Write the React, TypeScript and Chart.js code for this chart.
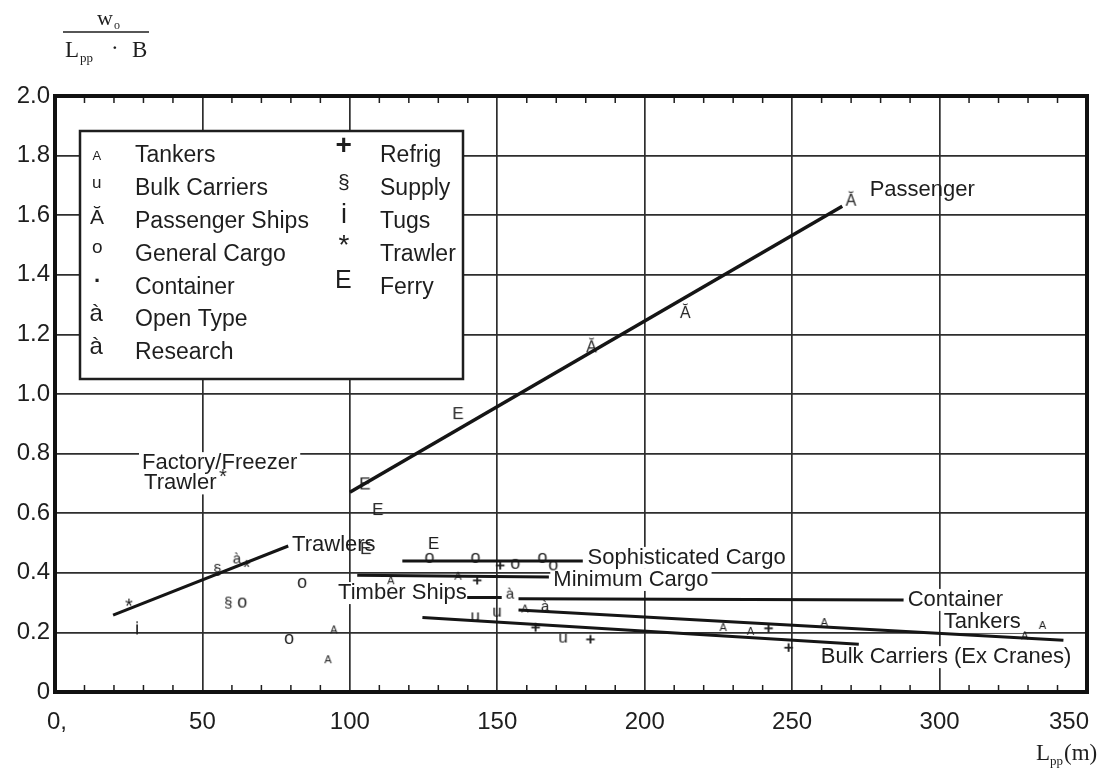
import React, { useEffect, useRef } from "react";
import { Chart, registerables } from "chart.js";

Chart.register(...registerables);

const W = 1098;
const H = 773;

// ---- Axis ticks ----
const xTickValues = [0, 50, 100, 150, 200, 250, 300, 350];
const xTickLabels = ["0,", "50", "100", "150", "200", "250", "300", "350"];
const yTickValues = [0, 0.2, 0.4, 0.6, 0.8, 1.0, 1.2, 1.4, 1.6, 1.8, 2.0];
const yTickLabels = ["0", "0.2", "0.4", "0.6", "0.8", "1.0", "1.2", "1.4", "1.6", "1.8", "2.0"];

// ---- Scatter points (Lpp in m, wo/(Lpp*B)) ----
const tankersX = [92.7, 94.7, 114, 136.8, 159.5, 226.7, 236, 261, 329, 335];
const tankersY = [0.11, 0.21, 0.375, 0.39, 0.28, 0.218, 0.205, 0.235, 0.19, 0.225];
const bulkX = [142.6, 150, 172.4];
const bulkY = [0.252, 0.268, 0.181];
const passengerX = [182, 213.8, 270];
const passengerY = [1.165, 1.28, 1.657];
const cargoX = [63.5, 79.4, 83.8, 127, 142.6, 156.1, 165.3, 169];
const cargoY = [0.3, 0.178, 0.366, 0.45, 0.45, 0.43, 0.45, 0.425];
const openTypeX = [154.4, 166.3];
const openTypeY = [0.332, 0.29];
const researchX = [61.8];
const researchY = [0.45];
const refrigX = [143.2, 151, 163, 181.6, 242, 248.8];
const refrigY = [0.376, 0.426, 0.218, 0.178, 0.215, 0.15];
const supplyX = [55, 58.7];
const supplyY = [0.41, 0.3];
const tugsX = [27.8];
const tugsY = [0.215];
const trawlerX = [25.1, 57, 65];
const trawlerY = [0.3, 0.735, 0.43];
const ferryX = [105.2, 105.5, 109.6, 128.5, 136.8];
const ferryY = [0.7, 0.483, 0.614, 0.5, 0.936];

// ---- Trend lines ----
const passengerLineX = [100, 267];
const passengerLineY = [0.67, 1.63];
const trawlerLineX = [19.7, 79.1];
const trawlerLineY = [0.258, 0.49];
const sophCargoLineX = [117.8, 179];
const sophCargoLineY = [0.44, 0.44];
const minCargoLineX = [102.5, 167.5];
const minCargoLineY = [0.392, 0.386];
const timberLineX = [139.8, 151.5];
const timberLineY = [0.317, 0.317];
const containerLineX = [157.2, 287.8];
const containerLineY = [0.313, 0.309];
const tankerLineX = [157.2, 342];
const tankerLineY = [0.275, 0.174];
const bulkLineX = [124.6, 272.6];
const bulkLineY = [0.25, 0.16];

// ---- Annotation labels ----
const labelTexts = [
  "Passenger",
  "Factory/Freezer",
  "Trawler",
  "Trawlers",
  "Sophisticated Cargo",
  "Minimum Cargo",
  "Timber Ships",
  "Container",
  "Tankers",
  "Bulk Carriers (Ex Cranes)",
];
const labelXs = [276.3, 29.5, 30.2, 80.4, 180.6, 169, 96, 289.2, 301.4, 259.7];
const labelYs = [1.685, 0.768, 0.7, 0.493, 0.45, 0.376, 0.332, 0.309, 0.235, 0.117];
const labelBackdrop = [false, true, true, false, true, true, true, true, true, true];

// ---- Legend ----
const legendSymbolsLeft = ["A", "u", "Ă", "o", "·", "à", "à"];
const legendNamesLeft = ["Tankers", "Bulk Carriers", "Passenger Ships", "General Cargo", "Container", "Open Type", "Research"];
const legendSymbolsRight = ["+", "§", "i", "*", "E"];
const legendNamesRight = ["Refrig", "Supply", "Tugs", "Trawler", "Ferry"];
const legendSymbolSizesLeft = [13, 17, 21, 19, 22, 24, 24];
const legendSymbolSizesRight = [28, 21, 27, 28, 25];

const SANS = '"Liberation Sans", Arial, Helvetica, sans-serif';
const SERIF = '"Liberation Serif", "Times New Roman", serif';
const INK = "#1e1e1e";

function makeGlyph(ch: string, size: number, bold = false) {
  const font = `${bold ? "bold " : ""}${size}px ${SANS}`;
  const c = document.createElement("canvas");
  let ctx = c.getContext("2d")!;
  ctx.font = font;
  const m = ctx.measureText(ch);
  const l = m.actualBoundingBoxLeft || 0;
  const r = m.actualBoundingBoxRight || m.width;
  const a = m.actualBoundingBoxAscent || size * 0.7;
  const d = m.actualBoundingBoxDescent || 0;
  c.width = Math.ceil(l + r) + 4;
  c.height = Math.ceil(a + d) + 4;
  ctx = c.getContext("2d")!;
  ctx.font = font;
  ctx.fillStyle = INK;
  ctx.textBaseline = "alphabetic";
  ctx.textAlign = "left";
  ctx.fillText(ch, 2 + l, 2 + a);
  return c;
}

function pts(xs: number[], ys: number[]) {
  return xs.map((x, i) => ({ x, y: ys[i] }));
}

function drawCenteredGlyph(ctx: CanvasRenderingContext2D, ch: string, size: number, cx: number, cy: number, bold = false) {
  ctx.font = `${bold ? "bold " : ""}${size}px ${SANS}`;
  const m = ctx.measureText(ch);
  const l = m.actualBoundingBoxLeft || 0;
  const r = m.actualBoundingBoxRight || m.width;
  const a = m.actualBoundingBoxAscent || size * 0.7;
  const d = m.actualBoundingBoxDescent || 0;
  ctx.textAlign = "left";
  ctx.textBaseline = "alphabetic";
  ctx.fillText(ch, cx - (l + r) / 2 + l, cy + (a - d) / 2);
}

export default function App() {
  const ref = useRef<HTMLCanvasElement | null>(null);

  useEffect(() => {
    const canvas = ref.current;
    if (!canvas) return;

    const pointSets = [
      { label: "Tankers", xs: tankersX, ys: tankersY, glyph: makeGlyph("A", 11) },
      { label: "Bulk Carriers", xs: bulkX, ys: bulkY, glyph: makeGlyph("u", 17) },
      { label: "Passenger Ships", xs: passengerX, ys: passengerY, glyph: makeGlyph("Ă", 16) },
      { label: "General Cargo", xs: cargoX, ys: cargoY, glyph: makeGlyph("o", 18) },
      { label: "Open Type", xs: openTypeX, ys: openTypeY, glyph: makeGlyph("à", 15) },
      { label: "Research", xs: researchX, ys: researchY, glyph: makeGlyph("à", 15) },
      { label: "Refrig", xs: refrigX, ys: refrigY, glyph: makeGlyph("+", 17, true) },
      { label: "Supply", xs: supplyX, ys: supplyY, glyph: makeGlyph("§", 15) },
      { label: "Tugs", xs: tugsX, ys: tugsY, glyph: makeGlyph("i", 19) },
      { label: "Trawler", xs: trawlerX, ys: trawlerY, glyph: makeGlyph("*", 20) },
      { label: "Ferry", xs: ferryX, ys: ferryY, glyph: makeGlyph("E", 17) },
    ];

    const lineSets = [
      { label: "Passenger line", xs: passengerLineX, ys: passengerLineY, w: 3.5 },
      { label: "Trawlers line", xs: trawlerLineX, ys: trawlerLineY, w: 3 },
      { label: "Sophisticated Cargo line", xs: sophCargoLineX, ys: sophCargoLineY, w: 3 },
      { label: "Minimum Cargo line", xs: minCargoLineX, ys: minCargoLineY, w: 3 },
      { label: "Timber Ships line", xs: timberLineX, ys: timberLineY, w: 3 },
      { label: "Container line", xs: containerLineX, ys: containerLineY, w: 3 },
      { label: "Tankers line", xs: tankerLineX, ys: tankerLineY, w: 3 },
      { label: "Bulk Carriers line", xs: bulkLineX, ys: bulkLineY, w: 3 },
    ];

    const decorPlugin = {
      id: "decor",
      beforeDraw(chart: any) {
        const ctx = chart.ctx;
        ctx.save();
        ctx.fillStyle = "#ffffff";
        ctx.fillRect(0, 0, chart.width, chart.height);
        ctx.restore();
      },
      beforeDatasetsDraw(chart: any) {
        const ctx = chart.ctx as CanvasRenderingContext2D;
        const xs = chart.scales.x;
        const ys = chart.scales.y;
        const area = chart.chartArea;
        ctx.save();
        // label backdrops (hide grid under text)
        ctx.font = `22px ${SANS}`;
        labelTexts.forEach((t, i) => {
          if (!labelBackdrop[i]) return;
          const px = xs.getPixelForValue(labelXs[i]);
          const py = ys.getPixelForValue(labelYs[i]);
          const w = ctx.measureText(t).width;
          ctx.fillStyle = "#ffffff";
          ctx.fillRect(px - 3, py - 11, w + 6, 22);
        });
        // legend box
        const lx = area.left + 25;
        const ly = area.top + 35;
        const lw = 383;
        const lh = 248;
        ctx.fillStyle = "#ffffff";
        ctx.fillRect(lx, ly, lw, lh);
        ctx.strokeStyle = INK;
        ctx.lineWidth = 2.5;
        ctx.strokeRect(lx, ly, lw, lh);
        ctx.fillStyle = INK;
        const rowH = 32.8;
        legendNamesLeft.forEach((name, i) => {
          const cy = ly + 24 + i * rowH;
          drawCenteredGlyph(ctx, legendSymbolsLeft[i], legendSymbolSizesLeft[i], lx + 17, cy, legendSymbolsLeft[i] === "·");
          ctx.font = `23px ${SANS}`;
          ctx.textAlign = "left";
          ctx.textBaseline = "middle";
          ctx.fillText(name, lx + 55, cy + 1);
        });
        legendNamesRight.forEach((name, i) => {
          const cy = ly + 24 + i * rowH;
          const sym = legendSymbolsRight[i];
          const dy = sym === "*" ? -6 : sym === "+" ? -3 : 0;
          drawCenteredGlyph(ctx, sym, legendSymbolSizesRight[i], lx + 264, cy + dy, sym === "+");
          ctx.font = `23px ${SANS}`;
          ctx.textAlign = "left";
          ctx.textBaseline = "middle";
          ctx.fillText(name, lx + 300, cy + 1);
        });
        ctx.restore();
      },
      afterDatasetsDraw(chart: any) {
        const ctx = chart.ctx as CanvasRenderingContext2D;
        const xs = chart.scales.x;
        const ys = chart.scales.y;
        const area = chart.chartArea;
        ctx.save();
        // annotation text
        ctx.fillStyle = INK;
        ctx.font = `22px ${SANS}`;
        ctx.textAlign = "left";
        ctx.textBaseline = "middle";
        labelTexts.forEach((t, i) => {
          ctx.fillText(t, xs.getPixelForValue(labelXs[i]), ys.getPixelForValue(labelYs[i]));
        });
        // minor ticks along top and bottom
        ctx.strokeStyle = INK;
        ctx.lineWidth = 1.5;
        for (let v = 10; v < 350; v += 10) {
          if (v % 50 === 0) continue;
          const px = xs.getPixelForValue(v);
          ctx.beginPath();
          ctx.moveTo(px, area.bottom);
          ctx.lineTo(px, area.bottom - 7);
          ctx.moveTo(px, area.top);
          ctx.lineTo(px, area.top + 7);
          ctx.stroke();
        }
        // plot frame
        ctx.lineWidth = 4;
        ctx.strokeStyle = "#111";
        ctx.strokeRect(area.left, area.top, area.right - area.left, area.bottom - area.top);
        ctx.restore();
      },
      afterDraw(chart: any) {
        const ctx = chart.ctx as CanvasRenderingContext2D;
        const xs = chart.scales.x;
        const area = chart.chartArea;
        ctx.save();
        ctx.fillStyle = INK;
        // x tick labels
        ctx.font = `24px ${SANS}`;
        ctx.textBaseline = "middle";
        xTickValues.forEach((v, i) => {
          const px = xs.getPixelForValue(v);
          if (i === 0) {
            ctx.textAlign = "left";
            ctx.fillText(xTickLabels[i], px - 8, area.bottom + 30);
          } else if (i === xTickValues.length - 1) {
            ctx.textAlign = "right";
            ctx.fillText(xTickLabels[i], px + 2, area.bottom + 30);
          } else {
            ctx.textAlign = "center";
            ctx.fillText(xTickLabels[i], px, area.bottom + 30);
          }
        });
        // y-axis title: wo / (Lpp · B)
        ctx.textAlign = "left";
        ctx.textBaseline = "alphabetic";
        ctx.font = `22px ${SERIF}`;
        ctx.fillText("w", 97, 25);
        ctx.font = `12px ${SERIF}`;
        ctx.fillText("o", 114, 29);
        ctx.strokeStyle = INK;
        ctx.lineWidth = 1.6;
        ctx.beginPath();
        ctx.moveTo(63, 32);
        ctx.lineTo(149, 32);
        ctx.stroke();
        ctx.font = `23px ${SERIF}`;
        ctx.fillText("L", 65, 57);
        ctx.font = `13px ${SERIF}`;
        ctx.fillText("pp", 80, 62);
        ctx.font = `23px ${SERIF}`;
        ctx.fillText("·", 111, 55);
        ctx.fillText("B", 132, 57);
        // x-axis title: Lpp(m)
        ctx.font = `23px ${SERIF}`;
        ctx.fillText("L", 1036, 760);
        ctx.font = `13px ${SERIF}`;
        ctx.fillText("pp", 1050, 765);
        ctx.font = `23px ${SERIF}`;
        ctx.fillText("(m)", 1064, 760);
        ctx.restore();
      },
    };

    const gridColor = "#2e2e2e";

    const chart = new Chart(canvas, {
      type: "scatter",
      data: {
        datasets: [
          ...lineSets.map((l) => ({
            label: l.label,
            data: pts(l.xs, l.ys),
            showLine: true,
            borderColor: "#151515",
            borderWidth: l.w,
            pointRadius: 0,
            fill: false,
            tension: 0,
          })),
          ...pointSets.map((p) => ({
            label: p.label,
            data: pts(p.xs, p.ys),
            showLine: false,
            pointStyle: p.glyph,
            pointRadius: 4,
            backgroundColor: INK,
            borderColor: INK,
          })),
        ] as any,
      },
      options: {
        animation: false,
        responsive: false,
        events: [],
        layout: { padding: { top: 96, right: 11, left: 0, bottom: 0 } },
        plugins: {
          legend: { display: false },
          tooltip: { enabled: false },
        },
        scales: {
          x: {
            type: "linear",
            min: 0,
            max: 350,
            afterBuildTicks: (s: any) => {
              s.ticks = xTickValues.map((v) => ({ value: v }));
            },
            ticks: { display: false },
            grid: { color: gridColor, lineWidth: 1.7, drawTicks: false },
            border: { display: false },
            afterFit: (s: any) => {
              s.height = 81;
            },
          },
          y: {
            type: "linear",
            min: 0,
            max: 2,
            afterBuildTicks: (s: any) => {
              s.ticks = yTickValues.map((v) => ({ value: v }));
            },
            ticks: {
              callback: (_v: any, i: number) => yTickLabels[i],
              font: { family: SANS, size: 24 },
              color: INK,
              padding: 5,
            },
            grid: { color: gridColor, lineWidth: 1.7, drawTicks: false },
            border: { display: false },
            afterFit: (s: any) => {
              s.width = 55;
            },
          },
        },
      } as any,
      plugins: [decorPlugin],
    });

    return () => {
      chart.destroy();
    };
  }, []);

  return (
    <div style={{ position: "absolute", left: 0, top: 0, width: W, height: H, background: "#fff" }}>
      <canvas ref={ref} width={W} height={H} style={{ display: "block", width: W, height: H }} />
    </div>
  );
}
